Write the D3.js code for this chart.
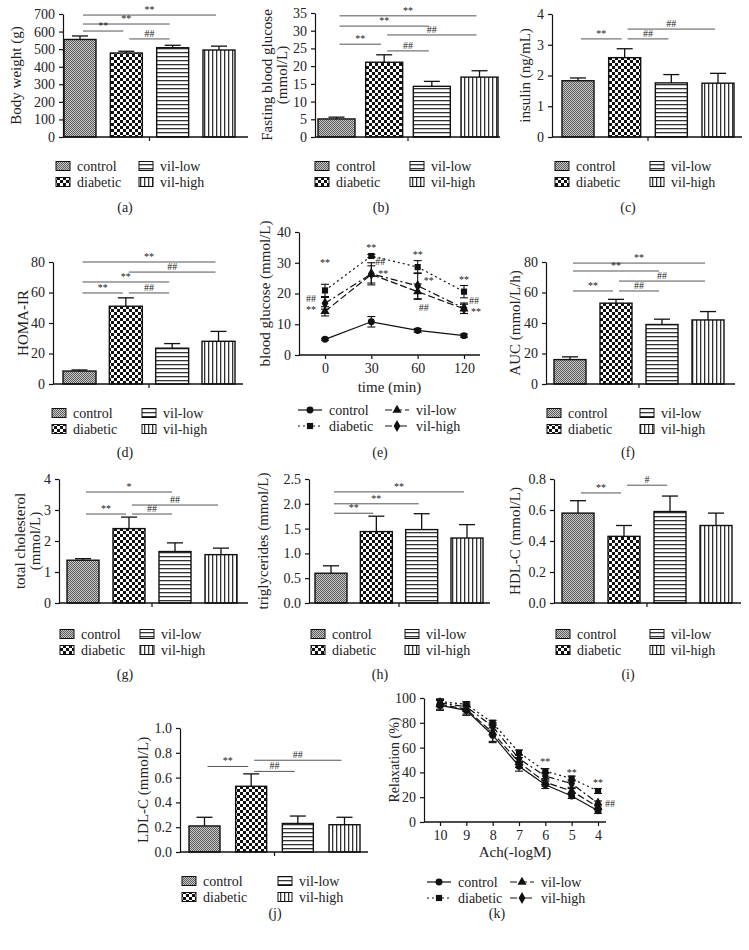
<!DOCTYPE html>
<html>
<head>
<meta charset="utf-8">
<script src="https://cdn.jsdelivr.net/npm/d3@7"></script>
<style>
  body { margin: 0; background: #fff; }
  svg text { font-family: "Liberation Serif", "DejaVu Serif", serif; fill: #222; }
</style>
</head>
<body>
<div id="chart"></div>
<script>
// groups shared by every bar panel
const groups = ['control', 'diabetic', 'vil-low', 'vil-high'];

// bar panels: mean and upper error
const weightMean = [555, 478, 508, 495];
const weightErr = [20, 10, 14, 22];
const fbgMean = [5.1, 21.1, 14.3, 16.9];
const fbgErr = [0.5, 2.1, 1.4, 1.8];
const insulinMean = [1.83, 2.58, 1.76, 1.75];
const insulinErr = [0.09, 0.29, 0.27, 0.32];
const homaMean = [8.5, 51, 23.5, 28];
const homaErr = [0.7, 5.5, 3, 6.5];
const aucMean = [16, 53, 39, 42];
const aucErr = [1.8, 2.5, 3.5, 5.5];
const tcMean = [1.38, 2.4, 1.66, 1.56];
const tcErr = [0.05, 0.37, 0.28, 0.21];
const tgMean = [0.6, 1.44, 1.48, 1.31];
const tgErr = [0.15, 0.31, 0.32, 0.27];
const hdlMean = [0.58, 0.43, 0.59, 0.5];
const hdlErr = [0.08, 0.07, 0.1, 0.08];
const ldlMean = [0.21, 0.53, 0.23, 0.22];
const ldlErr = [0.07, 0.1, 0.06, 0.06];

// significance brackets: [from group, to group, height, mark]
const sigA = [[0, 3, 694, '**'], [0, 2, 643, '**'], [0, 1, 603, '**'], [1, 2, 558, '##']];
const sigB = [[0, 3, 34.2, '**'], [0, 2, 31.3, '**'], [1, 3, 28.8, '##'], [0, 1, 26.2, '**'], [1, 2, 24.3, '##']];
const sigC = [[1, 3, 3.51, '##'], [0, 1, 3.19, '**'], [1, 2, 3.19, '##']];
const sigD = [[0, 3, 80, '**'], [1, 3, 73.4, '##'], [0, 2, 66.9, '**'], [0, 1, 59.7, '**'], [1, 2, 59.7, '##']];
const sigF = [[0, 3, 79.3, '**'], [0, 2, 74.1, '**'], [1, 3, 67.5, '##'], [0, 1, 61, '**'], [1, 2, 61, '##']];
const sigG = [[0, 2, 3.58, '*'], [1, 3, 3.16, '##'], [0, 1, 2.87, '**'], [1, 2, 2.87, '##']];
const sigH = [[0, 3, 2.24, '**'], [0, 2, 2.0, '**'], [0, 1, 1.81, '**']];
const sigI = [[1, 2, 0.76, '#'], [0, 1, 0.71, '**']];
const sigJ = [[1, 3, 0.74, '##'], [0, 1, 0.69, '**'], [1, 2, 0.65, '##']];

// OGTT curve (e)
const ogttTimes = ['0', '30', '60', '120'];
const ogttControl = [5.1, 10.8, 8.0, 6.3];
const ogttControlErr = [0.3, 1.7, 0.6, 0.5];
const ogttDiabetic = [21.0, 32.2, 28.6, 20.6];
const ogttDiabeticErr = [2.0, 0.5, 2.1, 2.0];
const ogttLow = [14.2, 26.2, 20.6, 15.0];
const ogttLowErr = [1.5, 2.8, 2.5, 1.5];
const ogttHigh = [16.8, 26.4, 22.5, 15.2];
const ogttHighErr = [1.9, 3.6, 4.2, 1.7];
// [time index, height, mark, pixel shift]
const ogttMarks = [
  [0, 30.2, '**', 0], [0, 18.4, '##', -14], [0, 14.8, '**', -14],
  [1, 35.1, '**', 0], [1, 30.3, '##', 9], [1, 26.6, '**', 12],
  [2, 32.8, '**', 0], [2, 24.1, '**', 11], [2, 15.6, '##', 6],
  [3, 24.7, '**', 0], [3, 17.8, '##', 10], [3, 14.0, '**', 12]
];

// relaxation curve (k)
const achDoses = ['10', '9', '8', '7', '6', '5', '4'];
const achControl = [94, 90, 70, 45, 30, 21, 9];
const achControlErr = [4, 4, 6, 4, 3, 2, 2];
const achDiabetic = [97, 95, 80, 56, 41, 35, 25];
const achDiabeticErr = [2, 2, 2, 2, 2, 2, 2];
const achLow = [95, 91, 72, 48, 32, 25, 12];
const achLowErr = [4, 4, 7, 4, 3, 2, 2];
const achHigh = [96, 93, 77, 51, 37, 31, 15];
const achHighErr = [3, 3, 3, 3, 3, 3, 2];
const achMarks = [[4, 48.4, '**', 0], [5, 40.3, '**', 0], [6, 31.5, '**', 0], [6, 15.3, '##', 12]];

const svg = d3.select('#chart').append('svg')
  .attr('width', 749).attr('height', 950)
  .style('background', '#fff');

// fill patterns
const defs = svg.append('defs');
const pc = defs.append('pattern').attr('id', 'p0').attr('patternUnits', 'userSpaceOnUse')
  .attr('width', 2).attr('height', 2);
pc.append('rect').attr('width', 2).attr('height', 2).attr('fill', '#c8c8c8');
pc.append('rect').attr('width', 1).attr('height', 1).attr('fill', '#5c5c5c');
pc.append('rect').attr('x', 1).attr('y', 1).attr('width', 1).attr('height', 1).attr('fill', '#5c5c5c');

const pd = defs.append('pattern').attr('id', 'p1').attr('patternUnits', 'userSpaceOnUse')
  .attr('width', 6).attr('height', 6);
pd.append('rect').attr('width', 6).attr('height', 6).attr('fill', '#fff');
pd.append('rect').attr('width', 3).attr('height', 3).attr('fill', '#111');
pd.append('rect').attr('x', 3).attr('y', 3).attr('width', 3).attr('height', 3).attr('fill', '#111');

const pl = defs.append('pattern').attr('id', 'p2').attr('patternUnits', 'userSpaceOnUse')
  .attr('width', 4).attr('height', 4);
pl.append('rect').attr('width', 4).attr('height', 4).attr('fill', '#fff');
pl.append('rect').attr('y', 0).attr('width', 4).attr('height', 1.3).attr('fill', '#333');

const ph = defs.append('pattern').attr('id', 'p3').attr('patternUnits', 'userSpaceOnUse')
  .attr('width', 4).attr('height', 4);
ph.append('rect').attr('width', 4).attr('height', 4).attr('fill', '#fff');
ph.append('rect').attr('x', 0).attr('width', 1.3).attr('height', 4).attr('fill', '#333');

const serif = '"Liberation Serif", "DejaVu Serif", serif';

function styleAxis(g) {
  g.attr('font-family', serif).attr('font-size', 14);
  g.selectAll('text').attr('fill', '#222');
  g.selectAll('line').attr('stroke', '#111').attr('stroke-width', 1.2);
  g.select('.domain').attr('stroke', '#111').attr('stroke-width', 1.2);
}

function yTitle(lines, x, cy, size) {
  const t = svg.append('text')
    .attr('transform', `translate(${x},${cy}) rotate(-90)`)
    .attr('text-anchor', 'middle')
    .attr('font-size', size || 15);
  [].concat(lines).forEach((s, i) => {
    t.append('tspan').attr('x', 0).attr('dy', i === 0 ? '0.35em' : 15).text(s);
  });
}

function tag(s, x, y) {
  svg.append('text').attr('x', x).attr('y', y).attr('text-anchor', 'middle')
    .attr('dominant-baseline', 'central').attr('font-size', 14).text(s);
}

function barLegend(x1, x2, y) {
  const rows = [[0, x1, y], [1, x1, y + 16], [2, x2, y], [3, x2, y + 16]];
  rows.forEach(([i, x, yy]) => {
    svg.append('rect').attr('x', x).attr('y', yy - 4.5).attr('width', 14).attr('height', 9)
      .attr('fill', `url(#p${i})`).attr('stroke', '#111').attr('stroke-width', 1);
    svg.append('text').attr('x', x + 21).attr('y', yy).attr('dominant-baseline', 'central')
      .attr('font-size', 14).text(groups[i]);
  });
}

function barPanel(p) {
  const y = d3.scaleLinear().domain([0, p.max]).range([p.y0, p.yTop]);
  const range = p.b1 - p.b0;
  const gap = (range - 4 * p.w) / 3;
  const x = d3.scaleBand().domain(groups).range([p.b0, p.b1])
    .paddingInner(gap / (p.w + gap)).paddingOuter(0);
  const g = svg.append('g');

  // bars
  g.selectAll('rect.bar').data(p.mean).join('rect')
    .attr('class', 'bar')
    .attr('x', (d, i) => x(groups[i]))
    .attr('y', d => y(d))
    .attr('width', x.bandwidth())
    .attr('height', d => p.y0 - y(d))
    .attr('fill', (d, i) => `url(#p${i})`)
    .attr('stroke', '#111').attr('stroke-width', 1.4);

  // upper error bars
  p.mean.forEach((m, i) => {
    const cx = x(groups[i]) + x.bandwidth() / 2;
    const top = y(m + p.err[i]);
    g.append('line').attr('x1', cx).attr('x2', cx).attr('y1', y(m)).attr('y2', top)
      .attr('stroke', '#111').attr('stroke-width', 1.3);
    g.append('line').attr('x1', cx - 8).attr('x2', cx + 8).attr('y1', top).attr('y2', top)
      .attr('stroke', '#111').attr('stroke-width', 1.3);
  });

  // axes
  const ya = g.append('g').attr('transform', `translate(${p.x0},0)`)
    .call(d3.axisLeft(y).tickValues(d3.range(0, p.max + p.step / 2, p.step))
      .tickFormat(p.fmt ? d3.format(p.fmt) : d3.format('d'))
      .tickSize(4).tickSizeOuter(0).tickPadding(4));
  styleAxis(ya);
  g.append('line').attr('x1', p.x0).attr('x2', p.xEnd).attr('y1', p.y0).attr('y2', p.y0)
    .attr('stroke', '#111').attr('stroke-width', 1.3);
  const mid = (x(groups[1]) + x.bandwidth() + x(groups[2])) / 2;
  g.append('line').attr('x1', mid).attr('x2', mid).attr('y1', p.y0).attr('y2', p.y0 + 4)
    .attr('stroke', '#111').attr('stroke-width', 1.2);

  // significance brackets
  p.sig.forEach(([a, b, v, s]) => {
    const xa = x(groups[a]) + x.bandwidth() / 2 + 3;
    const xb = x(groups[b]) + x.bandwidth() / 2 - 3;
    g.append('line').attr('x1', xa).attr('x2', xb).attr('y1', y(v)).attr('y2', y(v))
      .attr('stroke', '#555').attr('stroke-width', 1);
    g.append('text').attr('x', (xa + xb) / 2).attr('y', y(v) - 2)
      .attr('text-anchor', 'middle').attr('font-size', 10).attr('fill', '#666').text(s);
  });

  yTitle(p.title, p.tx, (p.y0 + p.yTop) / 2, p.tsize);
  barLegend(p.l1, p.l2, p.ly);
  tag(p.tag, p.tagX, p.tagY);
}

const lineStyles = [
  { dash: null, sym: d3.symbolCircle, size: 38 },
  { dash: '2,3', sym: d3.symbolSquare, size: 38 },
  { dash: '7,3', sym: d3.symbolTriangle, size: 36 },
  { dash: '7,3,2,3', sym: d3.symbolDiamond, size: 40 }
];

function lineLegend(x1, x2, y) {
  const rows = [[0, x1, y], [1, x1, y + 16], [2, x2, y], [3, x2, y + 16]];
  rows.forEach(([i, x, yy]) => {
    const st = lineStyles[i];
    svg.append('line').attr('x1', x).attr('x2', x + 24).attr('y1', yy).attr('y2', yy)
      .attr('stroke', '#111').attr('stroke-width', 1.2)
      .attr('stroke-dasharray', st.dash);
    svg.append('path').attr('d', d3.symbol(st.sym, st.size)())
      .attr('transform', `translate(${x + 12},${yy})`).attr('fill', '#111');
    svg.append('text').attr('x', x + 31).attr('y', yy).attr('dominant-baseline', 'central')
      .attr('font-size', 14).text(groups[i]);
  });
}

function linePanel(p) {
  const y = d3.scaleLinear().domain([0, p.max]).range([p.y0, p.yTop]);
  const x = d3.scalePoint().domain(p.cats).range([p.p0, p.p1]);
  const g = svg.append('g');

  const ya = g.append('g').attr('transform', `translate(${p.x0},0)`)
    .call(d3.axisLeft(y).tickValues(d3.range(0, p.max + p.step / 2, p.step))
      .tickSize(4).tickSizeOuter(0).tickPadding(4));
  styleAxis(ya);
  const xa = g.append('g').attr('transform', `translate(0,${p.y0})`)
    .call(d3.axisBottom(x).tickSize(4).tickSizeOuter(0).tickPadding(4));
  styleAxis(xa);
  xa.select('.domain').remove();
  g.append('line').attr('x1', p.x0).attr('x2', p.xEnd).attr('y1', p.y0).attr('y2', p.y0)
    .attr('stroke', '#111').attr('stroke-width', 1.3);

  const line = d3.line().x((d, i) => x(p.cats[i])).y(d => y(d));
  p.series.forEach((vals, k) => {
    const st = lineStyles[k];
    vals.forEach((v, i) => {
      const cx = x(p.cats[i]);
      const e = p.errs[k][i];
      g.append('line').attr('x1', cx).attr('x2', cx).attr('y1', y(v - e)).attr('y2', y(v + e))
        .attr('stroke', '#111').attr('stroke-width', 1.1);
      [v - e, v + e].forEach(b => {
        g.append('line').attr('x1', cx - 4).attr('x2', cx + 4).attr('y1', y(b)).attr('y2', y(b))
          .attr('stroke', '#111').attr('stroke-width', 1.1);
      });
    });
    g.append('path').datum(vals).attr('d', line).attr('fill', 'none')
      .attr('stroke', '#111').attr('stroke-width', 1.2)
      .attr('stroke-dasharray', st.dash);
  });
  p.series.forEach((vals, k) => {
    const st = lineStyles[k];
    g.selectAll(null).data(vals).join('path')
      .attr('d', d3.symbol(st.sym, st.size)())
      .attr('transform', (d, i) => `translate(${x(p.cats[i])},${y(d)})`)
      .attr('fill', '#111');
  });

  p.marks.forEach(([i, v, s, dx]) => {
    g.append('text').attr('x', x(p.cats[i]) + dx).attr('y', y(v))
      .attr('text-anchor', 'middle').attr('dominant-baseline', 'central')
      .attr('font-size', 10).attr('fill', '#666').text(s);
  });

  svg.append('text').attr('x', (p.x0 + p.xEnd) / 2).attr('y', p.xty)
    .attr('text-anchor', 'middle').attr('dominant-baseline', 'central')
    .attr('font-size', 15).text(p.xTitle);
  yTitle(p.title, p.tx, (p.y0 + p.yTop) / 2, p.tsize);
  lineLegend(p.l1, p.l2, p.ly);
  tag(p.tag, p.tagX, p.tagY);
}

// row 1
barPanel({ mean: weightMean, err: weightErr, sig: sigA, max: 700, step: 100,
  x0: 63, xEnd: 248, y0: 137, yTop: 14, b0: 64, b1: 235, w: 32,
  title: 'Body weight (g)', tx: 16, l1: 56, l2: 139, ly: 166, tag: '(a)', tagX: 125, tagY: 207 });
barPanel({ mean: fbgMean, err: fbgErr, sig: sigB, max: 35, step: 5,
  x0: 315, xEnd: 500, y0: 137, yTop: 13, b0: 318, b1: 498, w: 37,
  title: ['Fasting blood glucose', '(mmol/L)'], tx: 267, l1: 315, l2: 410, ly: 166,
  tag: '(b)', tagX: 381, tagY: 207 });
barPanel({ mean: insulinMean, err: insulinErr, sig: sigC, max: 4, step: 1,
  x0: 552, xEnd: 742, y0: 137, yTop: 14, b0: 562, b1: 734, w: 32,
  title: 'insulin (ng/mL)', tx: 525, l1: 555, l2: 650, ly: 166, tag: '(c)', tagX: 628, tagY: 207 });

// row 2
barPanel({ mean: homaMean, err: homaErr, sig: sigD, max: 80, step: 20,
  x0: 53, xEnd: 243, y0: 384, yTop: 262, b0: 63, b1: 235, w: 33,
  title: 'HOMA-IR', tx: 23, l1: 52, l2: 142, ly: 413, tag: '(d)', tagX: 125, tagY: 452 });
linePanel({ cats: ogttTimes, series: [ogttControl, ogttDiabetic, ogttLow, ogttHigh],
  errs: [ogttControlErr, ogttDiabeticErr, ogttLowErr, ogttHighErr], marks: ogttMarks,
  max: 40, step: 10, x0: 299, xEnd: 480, y0: 355, yTop: 232, p0: 325, p1: 464,
  xTitle: 'time (min)', xty: 387, title: 'blood glucose (mmol/L)', tx: 265,
  l1: 298, l2: 385, ly: 410, tag: '(e)', tagX: 380, tagY: 452 });
barPanel({ mean: aucMean, err: aucErr, sig: sigF, max: 80, step: 20,
  x0: 546, xEnd: 735, y0: 384, yTop: 262, b0: 554, b1: 724, w: 32,
  title: 'AUC (mmol/L/h)', tx: 515, l1: 547, l2: 640, ly: 413, tag: '(f)', tagX: 628, tagY: 452 });

// row 3
barPanel({ mean: tcMean, err: tcErr, sig: sigG, max: 4, step: 1,
  x0: 59, xEnd: 248, y0: 603, yTop: 479, b0: 67, b1: 237, w: 32,
  title: ['total cholesterol', '(mmol/L)'], tx: 20, l1: 60, l2: 140, ly: 634,
  tag: '(g)', tagX: 125, tagY: 674 });
barPanel({ mean: tgMean, err: tgErr, sig: sigH, max: 2.5, step: 0.5, fmt: '.1f',
  x0: 309, xEnd: 490, y0: 603, yTop: 479, b0: 315, b1: 483, w: 32,
  title: 'triglycerides (mmol/L)', tx: 263, l1: 311, l2: 405, ly: 634,
  tag: '(h)', tagX: 380, tagY: 674 });
barPanel({ mean: hdlMean, err: hdlErr, sig: sigI, max: 0.8, step: 0.2, fmt: '.1f',
  x0: 554, xEnd: 741, y0: 603, yTop: 479, b0: 562, b1: 732, w: 32,
  title: 'HDL-C (mmol/L)', tx: 515, l1: 556, l2: 650, ly: 634,
  tag: '(i)', tagX: 628, tagY: 674 });

// row 4
barPanel({ mean: ldlMean, err: ldlErr, sig: sigJ, max: 1.0, step: 0.2, fmt: '.1f',
  x0: 180, xEnd: 368, y0: 852, yTop: 728, b0: 189, b1: 360, w: 31,
  title: 'LDL-C (mmol/L)', tx: 143, l1: 182, l2: 278, ly: 881,
  tag: '(j)', tagX: 275, tagY: 913 });
linePanel({ cats: achDoses, series: [achControl, achDiabetic, achLow, achHigh],
  errs: [achControlErr, achDiabeticErr, achLowErr, achHighErr], marks: achMarks,
  max: 100, step: 20, x0: 424, xEnd: 606, y0: 822, yTop: 698, p0: 440, p1: 598,
  xTitle: 'Ach(-logM)', xty: 852, title: 'Relaxation (%)', tx: 394, tsize: 14,
  l1: 427, l2: 510, ly: 882, tag: '(k)', tagX: 497, tagY: 913 });
</script>
</body>
</html>
